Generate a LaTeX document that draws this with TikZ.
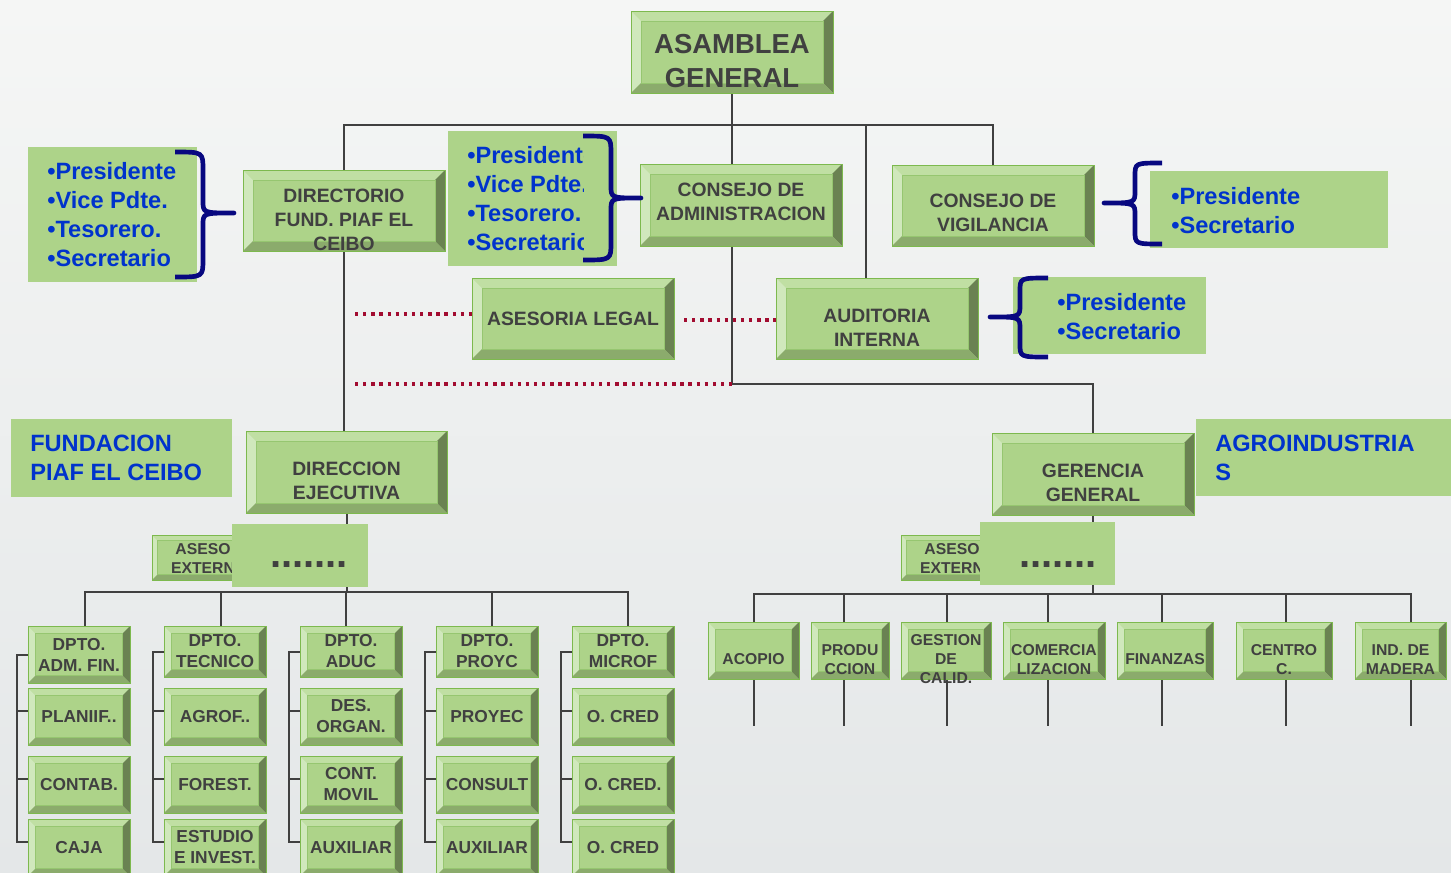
\documentclass[tikz,border=0pt]{standalone}
\usepackage{fontspec}
\setmainfont{Liberation Sans}
\usetikzlibrary{backgrounds}

\definecolor{boxface}{RGB}{173,211,137}
\definecolor{bevtop}{RGB}{192,223,163}
\definecolor{bevlft}{RGB}{208,232,188}
\definecolor{bevrgt}{RGB}{106,130,82}
\definecolor{bevbot}{RGB}{139,171,108}
\definecolor{bevline}{RGB}{150,198,112}
\definecolor{boxedge}{RGB}{125,185,78}
\definecolor{txtgray}{RGB}{64,64,64}
\definecolor{lblue}{RGB}{0,51,204}
\definecolor{bracenavy}{RGB}{8,8,128}
\definecolor{dotred}{RGB}{162,12,48}
\definecolor{linegray}{RGB}{64,64,64}
\definecolor{bgtop}{RGB}{245,246,245}
\definecolor{bgbot}{RGB}{228,231,232}

\newcommand\bigfnt{\fontsize{20.6pt}{25.5pt}\selectfont\bfseries}
\newcommand\midfnt{\fontsize{14.5pt}{18pt}\selectfont\bfseries}
\newcommand\smlfnt{\fontsize{13pt}{15.75pt}\selectfont\bfseries}
\newcommand\agrfnt{\fontsize{11.8pt}{14.25pt}\selectfont\bfseries}
\newcommand\lstfnt{\fontsize{17.7pt}{21.75pt}\selectfont\bfseries}
\newcommand\dotfnt{\fontsize{30pt}{30pt}\selectfont\bfseries}

% bevelled face of a box
\newcommand\bevelparts[1]{%
  \def\ppb{path picture bounding box}%
  \fill[bevtop] (\ppb.north west) -- (\ppb.north east) -- ([shift={(-#1,-#1)}]\ppb.north east) -- ([shift={(#1,-#1)}]\ppb.north west) -- cycle;
  \fill[bevlft] (\ppb.north west) -- ([shift={(#1,-#1)}]\ppb.north west) -- ([shift={(#1,#1)}]\ppb.south west) -- (\ppb.south west) -- cycle;
  \fill[bevrgt] (\ppb.north east) -- ([shift={(-#1,-#1)}]\ppb.north east) -- ([shift={(-#1,#1)}]\ppb.south east) -- (\ppb.south east) -- cycle;
  \fill[bevbot] (\ppb.south west) -- (\ppb.south east) -- ([shift={(-#1,#1)}]\ppb.south east) -- ([shift={(#1,#1)}]\ppb.south west) -- cycle;
  \draw[bevline, line width=0.5pt] ([shift={(#1,-#1)}]\ppb.north west) rectangle ([shift={(-#1,#1)}]\ppb.south east);
}

% curly brace: x0 xv x1 ytop ymid ybot rend rtip
\newcommand\bracepath[8]{%
  \draw[brc] (#1,#4) .. controls (#2,#4) .. (#2,#4+#7) -- (#2,#5-#8) .. controls (#2,#5) .. (#3,#5)
    .. controls (#2,#5) .. (#2,#5+#8) -- (#2,#6-#7) .. controls (#2,#6) .. (#1,#6);
}

\tikzset{
  sz/.style 2 args={minimum width=#1*0.75pt, minimum height=#2*0.75pt},
  dy/.style={yshift=#1*0.75pt},
  bev/.style={draw=boxedge, line width=0.75pt, fill=boxface, inner sep=0pt, path picture={\bevelparts{#1}}},
  bev/.default=7.5pt,
  btxt/.style={align=center, text=txtgray, inner sep=0pt},
  lbox/.style={fill=boxface, inner sep=0pt},
  ltxt/.style={align=left, text=lblue, inner sep=0pt, anchor=west, font=\lstfnt},
  conn/.style={draw=linegray, line width=1.5pt, line cap=rect},
  dotl/.style={draw=dotred, line width=2.5pt, dash pattern=on 2.5pt off 3.6pt},
  brc/.style={draw=bracenavy, line width=3.5pt, line join=round},
}

\begin{document}
\begin{tikzpicture}[x=0.75pt,y=-0.75pt]
\useasboundingbox (0,0) rectangle (1451,872);

% upper boxes
\node[bev, sz={202}{82}, label={[btxt, font=\bigfnt, dy=-9, name=asambleaT]center:ASAMBLEA\\GENERAL}] (asamblea) at (732,52) {};
\node[bev, sz={202}{81}, label={[btxt, font=\midfnt, dy=-9.5, name=directorioT]center:DIRECTORIO\\FUND. PIAF EL\\CEIBO}] (directorio) at (344,210.5) {};
\node[bev, sz={202}{82}, label={[btxt, font=\midfnt, dy=3, name=consadmT]center:CONSEJO DE\\ADMINISTRACION}] (consadm) at (741,205) {};
\node[bev, sz={202}{81}, label={[btxt, font=\midfnt, dy=-7.5, name=consvigT]center:CONSEJO DE\\VIGILANCIA}] (consvig) at (993,205.5) {};
\node[bev, sz={202}{81}, label={[btxt, font=\midfnt, dy=-0.5, name=asesoriaT]center:ASESORIA LEGAL}] (asesoria) at (573,318.5) {};
\node[bev, sz={202}{81}, label={[btxt, font=\midfnt, dy=-9.5, name=auditoriaT]center:AUDITORIA\\INTERNA}] (auditoria) at (877,318.5) {};
\node[bev, sz={201}{82}, label={[btxt, font=\midfnt, dy=-9, name=direccionT]center:DIRECCION\\EJECUTIVA}] (direccion) at (346.5,472) {};
\node[bev, sz={202}{82}, label={[btxt, font=\midfnt, dy=-8.5, name=gerenciaT]center:GERENCIA\\GENERAL}] (gerencia) at (1093,474) {};

% member lists and titles
\node[lbox, sz={169}{135}] (lstdir) at (112.5,214.5) {};
\begin{scope}
  \clip (28,147) rectangle (175,282);
  \node[ltxt] (lstdirT) at (47,214.5) {•Presidente\\•Vice Pdte.\\•Tesorero.\\•Secretario};
\end{scope}
\node[lbox, sz={169}{135}] (lstadm) at (532.5,198.5) {};
\begin{scope}
  \clip (448,131) rectangle (583,266);
  \node[ltxt] (lstadmT) at (467,198.5) {•Presidente\\•Vice Pdte.\\•Tesorero.\\•Secretario};
\end{scope}
\node[lbox, sz={238}{77}] (lstvig) at (1269,209.5) {};
\node[ltxt] (lstvigT) at (1171,210.5) {•Presidente\\•Secretario};
\node[lbox, sz={193}{77}] (lstaud) at (1109.5,315.5) {};
\node[ltxt] (lstaudT) at (1057,316.5) {•Presidente\\•Secretario};
\node[lbox, sz={221}{78}] (fundlab) at (121.5,458) {};
\node[ltxt] (fundlabT) at (30,457.5) {FUNDACION\\PIAF EL CEIBO};
\node[lbox, sz={260}{77}] (agrolab) at (1326,457.5) {};
\node[ltxt] (agrolabT) at (1215,457.5) {AGROINDUSTRIA\\S};

% asesores externos
\node[bev=4.1pt, sz={102}{45}, label={[btxt, font=\agrfnt, dy=-1, name=aseso1T]center:ASESO\\EXTERN}] (aseso1) at (203,557.5) {};
\node[lbox, sz={136}{63}, label={[btxt, font=\dotfnt, xshift=9*0.75pt, dy=-9.5, name=dots1T]center:.......}] (dots1) at (300,555.5) {};
\node[bev=4.1pt, sz={102}{45}, label={[btxt, font=\agrfnt, dy=-1, name=aseso2T]center:ASESO\\EXTERN}] (aseso2) at (952,557.5) {};
\node[lbox, sz={135}{63}, label={[btxt, font=\dotfnt, xshift=10.5*0.75pt, dy=-11.5, name=dots2T]center:.......}] (dots2) at (1047.5,553.5) {};

% departamentos fundacion
\foreach \nm/\cx/\cy/\hh/\tx in {
  d11/79/654.5/57/{DPTO.\\ADM. FIN.}, d12/79/716.5/57/{PLANIIF..}, d13/79/784.5/57/{CONTAB.}, d14/79/847.5/57/{CAJA},
  d21/215/651.5/51/{DPTO.\\TECNICO}, d22/215/716.5/57/{AGROF..}, d23/215/784.5/57/{FOREST.}, d24/215/847.5/57/{ESTUDIO\\E INVEST.},
  d31/351/651.5/51/{DPTO.\\ADUC}, d32/351/716.5/57/{DES.\\ORGAN.}, d33/351/784.5/57/{CONT.\\MOVIL}, d34/351/847.5/57/{AUXILIAR},
  d41/487/651.5/51/{DPTO.\\PROYC}, d42/487/716.5/57/{PROYEC}, d43/487/784.5/57/{CONSULT}, d44/487/847.5/57/{AUXILIAR},
  d51/623/651.5/51/{DPTO.\\MICROF}, d52/623/716.5/57/{O. CRED}, d53/623/784.5/57/{O. CRED.}, d54/623/847.5/57/{O. CRED}}
  \node[bev=5.6pt, sz={102}{\hh}, label={[btxt, font=\smlfnt, name=\nm T]center:\tx}] (\nm) at (\cx,\cy) {};

% areas agroindustrias
\foreach \nm/\cx/\ww/\tx in {
  a1/753.5/91/{ACOPIO}, a2/850/78/{PRODU\\CCION}, a3/946/90/{GESTION\\DE\\CALID.},
  a4/1054/102/{COMERCIA\\LIZACION}, a5/1165/96/{FINANZAS}, a6/1284/96/{CENTRO\\C.}, a7/1400.5/91/{IND. DE\\MADERA}}
  \node[bev=5.6pt, sz={\ww}{57}, label={[btxt, font=\agrfnt, dy=-9, name=\nm T]center:\tx}] (\nm) at (\cx,650.5) {};

% braces
\bracepath{175}{203}{234}{152}{213}{277}{18}{12}
\bracepath{583}{611}{641}{136}{198}{260}{18}{12}
\bracepath{1162}{1135}{1104}{163}{203}{244}{13}{12}
\bracepath{1048}{1020}{990}{278}{317}{357}{13}{12}

\begin{scope}[on background layer]
  \shade[top color=bgtop, bottom color=bgbot] (0,0) rectangle (1451,872);
  \coordinate (topbus) at (732,125);
  \coordinate (lowbus) at (732,384);
  \coordinate (audtap) at (866,125);
  \draw[conn] (asamblea.south) -- (lowbus) -| (gerencia.north);
  \draw[conn] (directorio.north |- topbus) -- (consvig.north |- topbus);
  \draw[conn] (directorio.north |- topbus) -- (directorio.north |- direccion.north);
  \draw[conn] (consvig.north |- topbus) -- (consvig.north);
  \draw[conn] (audtap) -- (audtap |- auditoria.north);
  % dotted staff links
  \coordinate (dotA) at (355,314);
  \coordinate (dotB) at (684,320);
  \coordinate (dotC) at (355,384);
  \draw[dotl] (dotA) -- (dotA -| asesoria.west);
  \draw[dotl] (dotB) -- (dotB -| auditoria.west);
  \draw[dotl] (dotC) -- (lowbus);
  % fundacion tree
  \coordinate (lbus) at (346,592);
  \draw[conn] (direccion.south) -- (direccion.south |- lbus);
  \foreach \c/\x in {1/85,2/221,3/346,4/492,5/628} {
    \coordinate (lt\c) at (\x,592);
    \draw[conn] (lt\c) -- (lt\c |- d\c1.north);
    \draw[conn] (d\c1.west) -- ++(-11,0) |- ([dy=6]d\c4.west);
    \draw[conn] ([dy=6]d\c2.west) -- ++(-11,0);
    \draw[conn] ([dy=6]d\c3.west) -- ++(-11,0);
  }
  \draw[conn] (lt1) -- (lt5);
  % agroindustrias tree
  \coordinate (rbus) at (1094,594);
  \draw[conn] (gerencia.south) -- (gerencia.south |- rbus);
  \foreach \i/\x in {1/754,2/844,3/947,4/1048,5/1162,6/1286,7/1411} {
    \coordinate (rt\i) at (\x,594);
    \coordinate (re\i) at (\x,725);
    \draw[conn] (rt\i) -- (rt\i |- a\i.north);
    \draw[conn] (re\i |- a\i.south) -- (re\i);
  }
  \draw[conn] (rt1) -- (rt7);
\end{scope}
\end{tikzpicture}
\end{document}
